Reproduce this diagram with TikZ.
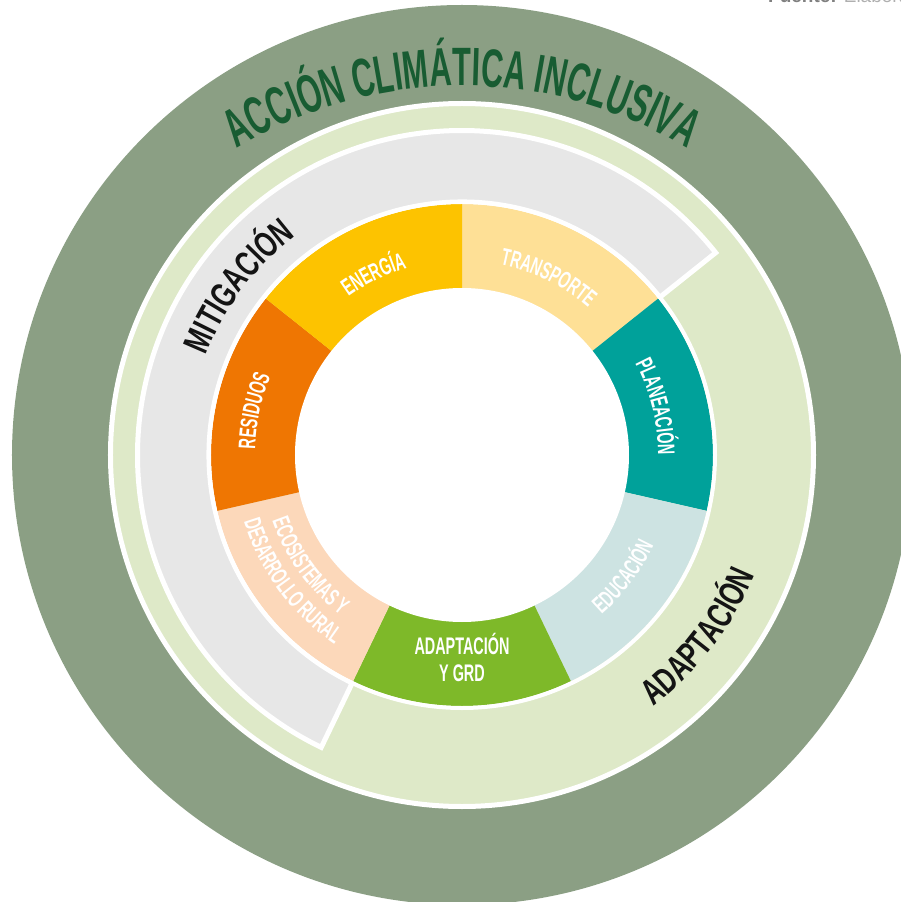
\documentclass[tikz,border=0pt]{standalone}
\usepackage{fontspec}
\setmainfont{Liberation Sans}
\newfontfamily\ttlfam{Liberation Sans}[FakeStretch=0.57]
\newfontfamily\bandfam{Liberation Sans}[FakeStretch=0.7]
\newfontfamily\lblfam{Liberation Sans}[FakeStretch=0.6]
\usepackage{xcolor}
\usepackage{tikz}
\usetikzlibrary{decorations.text}
\definecolor{ringgreen}{RGB}{139,159,132}
\definecolor{bandgreen}{RGB}{222,233,200}
\definecolor{mitigray}{RGB}{231,231,231}
\definecolor{titlegreen}{RGB}{24,92,50}
\definecolor{bandblack}{RGB}{20,20,20}
\definecolor{energia}{RGB}{253,195,0}
\definecolor{transporte}{RGB}{254,224,150}
\definecolor{planeacion}{RGB}{0,161,154}
\definecolor{educacion}{RGB}{205,227,226}
\definecolor{grd}{RGB}{126,185,41}
\definecolor{ecosist}{RGB}{252,216,186}
\definecolor{residuos}{RGB}{239,118,2}
\definecolor{srcgray}{RGB}{128,128,128}
\definecolor{srclight}{RGB}{175,175,175}
\newcommand\ttlfont{\ttlfam\bfseries\fontsize{54}{54}\selectfont}
\newcommand\bandfont{\bandfam\bfseries\fontsize{36}{36}\selectfont}
\newcommand\lblfont{\lblfam\bfseries\fontsize{24}{24}\selectfont}

\begin{document}
\begin{tikzpicture}[
    x=1pt, y=1pt,
    seg/.style={fill=#1},
    border/.style={draw=white, line width=5pt},
    arctext/.style={decorate, decoration={text along path, text align=center, text={#1}}},
    lbl/.style={font=\lblfont, text=white, inner sep=0pt}
]
\useasboundingbox (-462,-447) rectangle (439,455);
\clip (-462,-447) rectangle (439,455);

% ---- rings ----
\fill[ringgreen] (0,0) circle (450);
\draw[border, fill=bandgreen] (0,0) circle (351.5);
\draw[border, fill=mitigray] (38.57:253) -- (38.57:324.5)
    arc[start angle=38.57, end angle=244.29, radius=324.5] -- (244.29:253)
    arc[start angle=244.29, end angle=38.57, radius=253] -- cycle;

% ---- sectors ----
\fill[seg=transporte] (0,0) -- (90:251) arc[start angle=90, end angle=38.57, radius=251] -- cycle;
\fill[seg=planeacion] (0,0) -- (38.57:251) arc[start angle=38.57, end angle=-12.86, radius=251] -- cycle;
\fill[seg=educacion]  (0,0) -- (-12.86:251) arc[start angle=-12.86, end angle=-64.29, radius=251] -- cycle;
\fill[seg=grd]        (0,0) -- (-64.29:251) arc[start angle=-64.29, end angle=-115.71, radius=251] -- cycle;
\fill[seg=ecosist]    (0,0) -- (-115.71:251) arc[start angle=-115.71, end angle=-167.14, radius=251] -- cycle;
\fill[seg=residuos]   (0,0) -- (-167.14:251) arc[start angle=-167.14, end angle=-218.57, radius=251] -- cycle;
\fill[seg=energia]    (0,0) -- (141.43:251) arc[start angle=141.43, end angle=90, radius=251] -- cycle;
\draw[draw=white, line width=4pt] (0,0) circle (253);
\fill[white] (0,0) circle (167);

% ---- title and bands ----
\path[arctext={|\ttlfont\color{titlegreen}|ACCIÓN CLIMÁTICA INCLUSIVA}]
    ([shift={(0,-67)}]150:436) arc[start angle=150, end angle=30, radius=436];
\path[arctext={|\bandfont\color{bandblack}|MITIGACIÓN}]
    (168:275) arc[start angle=168, end angle=118, radius=275];
\path[arctext={|\bandfont\color{bandblack}|ADAPTACIÓN}]
    (-63:316) arc[start angle=-63, end angle=-12, radius=316];

% ---- sector labels ----
\path[arctext={|\lblfont\color{white}|ENERGÍA}]
    (141:195) arc[start angle=141, end angle=91, radius=195];
\path[arctext={|\lblfont\color{white}|TRANSPORTE}]
    (89:194) arc[start angle=89, end angle=39, radius=194];
\path[arctext={|\lblfont\color{white}|PLANEACIÓN}]
    (39:196) arc[start angle=39, end angle=-11, radius=196];
\path[arctext={|\lblfont\color{white}|EDUCACIÓN}]
    (-62:212) arc[start angle=-62, end angle=-12, radius=212];
\path[arctext={|\lblfont\color{white}|ECOSISTEMAS Y}]
    (-169:201) arc[start angle=-169, end angle=-119, radius=201];
\path[arctext={|\lblfont\color{white}|DESARROLLO RURAL}]
    (-171:228) arc[start angle=-171, end angle=-116, radius=228];
\path[arctext={|\lblfont\color{white}|RESIDUOS}]
    (193:207) arc[start angle=193, end angle=143, radius=207];
\node[lbl] (grdA) at (0,-188.5) {ADAPTACIÓN};
\node[lbl] (grdB) at (0,-218.5) {Y GRD};

% ---- source ----
\node[anchor=base west, inner sep=0pt, font=\fontsize{19}{19}\selectfont] (fuente) at (306,452.5)
    {\textcolor{srcgray}{\textbf{Fuente:}} \textcolor{srclight}{Elabora}};
\end{tikzpicture}
\end{document}
